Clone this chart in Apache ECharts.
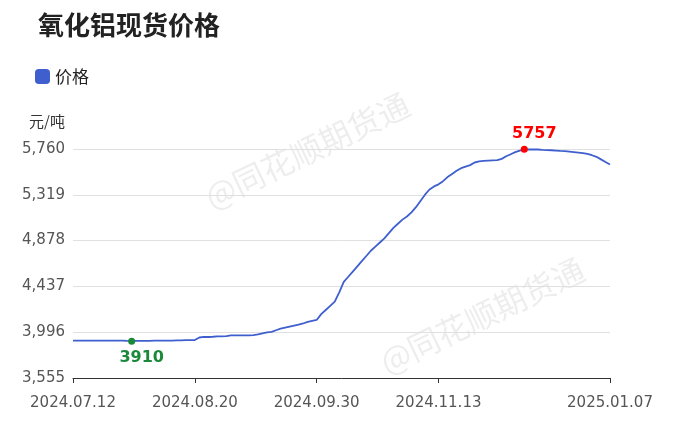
<!DOCTYPE html><html><head><meta charset="utf-8"><script src="https://cdn.jsdelivr.net/npm/echarts@6/dist/echarts.min.js"></script></head><body style="margin:0"><div id="c" style="width:673px;height:447px"></div><script>
const values=[3915,3915,3915,3915,3915,3915,3915,3915,3915,3915,3915,3915,3912,3910,3912,3912,3912,3912,3915,3915,3915,3915,3915,3918,3918,3920,3920,
3920,3945,3950,3950,3952,3955,3955,3958,3965,3965,3965,3965,3965,3968,3975,3985,3995,4000,4015,4030,4040,4050,4060,4070,4080,4095,4105,4114,
4170,4210,4250,4290,4380,4480,4530,4580,4630,4680,4730,4780,4820,4860,4900,4950,5000,5040,5080,5110,5150,5200,5260,5320,5370,5400,5420,5450,5490,5520,5550,5575,5590,5605,5630,5640,5645,5648,5650,5652,5665,5690,5710,5730,5745,5757,
5755,5755,5755,5752,5750,5748,5745,5742,5740,5735,5730,5725,5720,5712,5700,5685,5660,5635,5610];
const shownLabels=['2024.07.12','2024.08.20','2024.09.30','2024.11.13','2025.01.07'];
const yTicks=[3555,3996,4437,4878,5319,5760];
const holidays=['2024.09.16','2024.09.17','2024.10.01','2024.10.02','2024.10.03','2024.10.04','2024.10.07','2025.01.01'];
const dates=[];let d=new Date(2024,6,12);
const f=x=>x.getFullYear()+'.'+String(x.getMonth()+1).padStart(2,'0')+'.'+String(x.getDate()).padStart(2,'0');
while(dates.length<values.length){const s=f(d);if(d.getDay()!==0&&d.getDay()!==6&&!holidays.includes(s))dates.push(s);d.setDate(d.getDate()+1);}
dates[dates.length-1]='2025.01.07';
const ch=echarts.init(document.getElementById('c'));
const FF='DejaVu Sans, Noto Sans CJK SC';
const wm={type:'text',rotation:Math.PI/7,style:{text:'@同花顺期货通',fill:'rgba(0,0,0,0.07)',font:'32px "Noto Sans CJK SC"'}};
ch.setOption({
 animation:false,
 textStyle:{fontFamily:FF},
 title:{text:'氧化铝现货价格',left:33,top:7,textStyle:{fontSize:26,fontWeight:'bold',color:'#222',fontFamily:'Noto Sans CJK SC'}},
 legend:{left:30,top:63,itemWidth:15,itemHeight:15,icon:'roundRect',itemGap:4,textStyle:{fontSize:17,color:'#222',fontFamily:'Noto Sans CJK SC'},data:['价格']},
 graphic:[Object.assign({left:200,top:88},wm),Object.assign({left:375,top:253},wm)],
 grid:{left:73,right:63,top:149,bottom:69},
 xAxis:{type:'category',data:dates,boundaryGap:false,axisLine:{lineStyle:{color:'#333'}},axisTick:{show:true,alignWithLabel:true,interval:(i,v)=>shownLabels.includes(v)},
  axisLabel:{interval:(i,v)=>shownLabels.includes(v),color:'#555',fontSize:15,margin:18,showMaxLabel:true,fontFamily:FF}},
 yAxis:{type:'value',min:3555,max:5760,interval:441,name:'元/吨',nameLocation:'end',nameGap:20,nameTextStyle:{color:'#333',fontSize:15,align:'right',padding:[0,8,0,0],fontFamily:'Noto Sans CJK SC'},
  axisLabel:{color:'#555',fontSize:15,margin:8,formatter:v=>v.toLocaleString('en-US'),fontFamily:FF},splitLine:{lineStyle:{color:'#e0e0e0'}},axisLine:{show:false},axisTick:{show:false}},
 series:[{name:'价格',type:'line',data:values,showSymbol:false,color:'#3f5fcf',lineStyle:{width:1.8},
  markPoint:{symbol:'circle',symbolSize:7,data:[
   {coord:[13,3910],value:3910,itemStyle:{color:'#1a8a3a'},label:{show:true,position:'bottom',distance:5,offset:[10,0],color:'#1a8a3a',fontWeight:'bold',fontSize:16,fontFamily:FF}},
   {coord:[100,5757],value:5757,itemStyle:{color:'#f00'},label:{show:true,position:'top',distance:4,offset:[10,0],color:'#f00',fontWeight:'bold',fontSize:16,fontFamily:FF}}]}}]
});
</script></body></html>
